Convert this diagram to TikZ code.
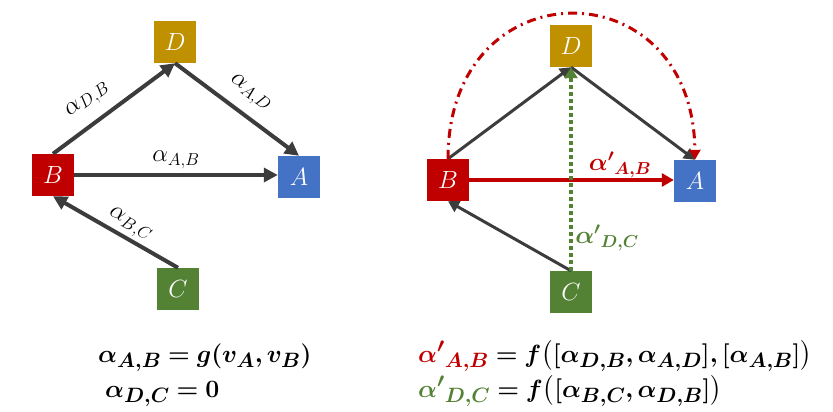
\documentclass[tikz,border=0pt]{standalone}
\usepackage{amsmath,bm}
\usetikzlibrary{arrows.meta}
\definecolor{cD}{HTML}{BF9000}
\definecolor{cB}{HTML}{C00000}
\definecolor{cA}{HTML}{4472C4}
\definecolor{cC}{HTML}{548235}
\definecolor{dgray}{HTML}{3C3C3C}
\begin{document}
\begin{tikzpicture}[x=1pt,y=-1pt,
  box/.style={minimum size=42pt, inner sep=0pt, text=white, font=\fontsize{30}{32}\selectfont},
  thickarr/.style={draw=dgray, line width=4pt, -{Triangle[length=14pt,width=14pt]}},
  thinarr/.style={draw=dgray, line width=3pt, -{Triangle[length=11pt,width=12pt]}},
  elabel/.style={font=\fontsize{24}{26}\selectfont, inner sep=0pt},
  formula/.style={font=\fontsize{29}{32}\selectfont, inner sep=0pt, anchor=base west}]
\useasboundingbox (0,0) rectangle (833,412);
% ---------- left graph ----------
\node[box, fill=cD] (D1) at (175,42) {$D$};
\node[box, fill=cB] (B1) at (53,175) {$B$};
\node[box, fill=cA] (A1) at (299,177) {$A$};
\node[box, fill=cC] (C1) at (178,289) {$C$};
\draw[thickarr] (B1.north) -- (D1.south);
\draw[thickarr] (D1.south) -- (A1.north);
\draw[thickarr] (B1.east) -- (A1.west |- B1.east);
\draw[thickarr] (C1.north) -- (B1.south);
\node[elabel, rotate=37] (l1) at (88,100) {$\alpha_{D,B}$};
\node[elabel, rotate=-37] (l2) at (250,93) {$\alpha_{A,D}$};
\node[elabel] (l3) at (176,160) {$\alpha_{A,B}$};
\node[elabel, rotate=-29.6] (l4) at (130,225) {$\alpha_{B,C}$};
% ---------- right graph ----------
\node[box, fill=cD] (D2) at (571,46) {$D$};
\node[box, fill=cB] (B2) at (448,180) {$B$};
\node[box, fill=cA] (A2) at (695,181) {$A$};
\node[box, fill=cC] (C2) at (571,292) {$C$};
\draw[thinarr] (B2.north) -- (D2.south);
\draw[thinarr] (D2.south) -- (A2.north);
\draw[thinarr] (C2.north) -- (B2.south);
\draw[draw=cB, line width=3.5pt, -{Triangle[length=12pt,width=13pt]}] (B2.east) -- (A2.west |- B2.east);
\draw[draw=cC, line width=4.5pt, dash pattern=on 4pt off 3pt, -{Triangle[length=11pt,width=13pt]}] (C2.north) -- (D2.south);
\draw[draw=cB, line width=3pt, dash pattern=on 9pt off 5pt on 2pt off 5pt, -{Triangle[length=10pt,width=11pt]}]
  (B2.north) .. controls (448,-34) and (693,-34) .. (A2.north);
\node[elabel, text=cB] (l5) at (620,165) {$\bm{{\alpha'}_{A,B}}$};
\node[elabel, text=cC] (l6) at (607,238) {$\bm{{\alpha'}_{D,C}}$};
% ---------- formulas ----------
\node[formula] (f1) at (98,362) {$\bm{\alpha_{A,B} = g(v_A, v_B)}$};
\node[formula] (f2) at (105,397) {$\bm{\alpha_{D,C} = 0}$};
\node[formula] (f3) at (418,362) {$\bm{{\color{cB}{\alpha'}_{A,B}} = f\bigl([\alpha_{D,B}, \alpha_{A,D}], [\alpha_{A,B}]\bigr)}$};
\node[formula] (f4) at (418,397) {$\bm{{\color{cC}{\alpha'}_{D,C}} = f\bigl([\alpha_{B,C}, \alpha_{D,B}]\bigr)}$};
\end{tikzpicture}
\end{document}
